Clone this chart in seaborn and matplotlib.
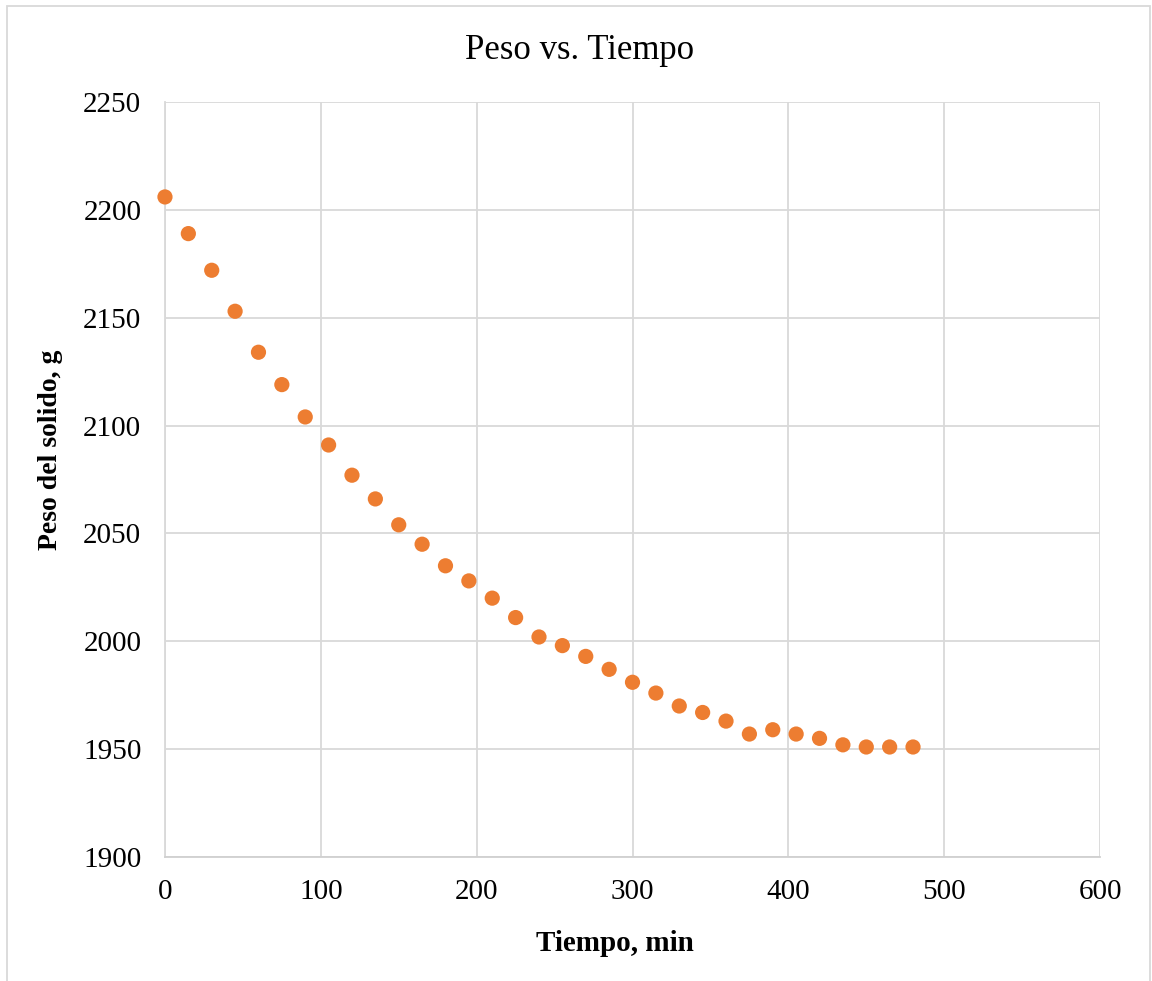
import matplotlib
matplotlib.use("Agg")
import matplotlib.pyplot as plt
import seaborn as sns
import pandas as pd
from matplotlib.patches import Rectangle

tiempo = [0, 15, 30, 45, 60, 75, 90, 105, 120, 135, 150, 165, 180, 195, 210, 225,
          240, 255, 270, 285, 300, 315, 330, 345, 360, 375, 390, 405, 420, 435,
          450, 465, 480]
peso = [2206, 2189, 2172, 2153, 2134, 2119, 2104, 2091, 2077, 2066, 2054, 2045,
        2035, 2028, 2020, 2011, 2002, 1998, 1993, 1987, 1981, 1976, 1970, 1967,
        1963, 1957, 1959, 1957, 1955, 1952, 1951, 1951, 1951]
x_ticks = [0, 100, 200, 300, 400, 500, 600]
y_ticks = [1900, 1950, 2000, 2050, 2100, 2150, 2200, 2250]

df = pd.DataFrame({"Tiempo": tiempo, "Peso": peso})

sns.set_style("white")
plt.rcParams["font.family"] = ["Liberation Serif", "DejaVu Serif"]
plt.rcParams["text.color"] = "black"
plt.rcParams["axes.labelcolor"] = "black"

fig = plt.figure(figsize=(11.52, 9.81), dpi=100)
ax = fig.add_axes([0.1432, 0.1264, 0.8117, 0.7696])

sns.scatterplot(data=df, x="Tiempo", y="Peso", ax=ax, color="#ED7D31",
                s=120, edgecolor="none", zorder=3, clip_on=False)

ax.set_xlim(0, 600)
ax.set_ylim(1900, 2250)
ax.set_xticks(x_ticks)
ax.set_yticks(y_ticks)
ax.grid(True, color="#d9d9d9", linewidth=1.3)
ax.set_axisbelow(True)
for sp in ax.spines.values():
    sp.set_visible(False)
ax.spines["bottom"].set_visible(True)
ax.spines["bottom"].set_color("#d0d0d0")
ax.spines["bottom"].set_linewidth(1.3)
ax.spines["left"].set_visible(True)
ax.spines["left"].set_color("#d9d9d9")
ax.spines["left"].set_linewidth(1.3)
ax.tick_params(axis="both", length=0, labelsize=21, colors="black")
ax.tick_params(axis="x", pad=16)
ax.tick_params(axis="y", pad=17)

ax.set_xlabel("Tiempo, min", fontsize=21, fontweight="bold", color="black")
ax.set_ylabel("Peso del solido, g", fontsize=20, fontweight="bold", color="black")
ax.xaxis.set_label_coords(0.481, -0.097)
ax.yaxis.set_label_coords(-0.109, 0.54)
fig.suptitle("Peso vs. Tiempo", fontsize=25, color="black", x=0.503, y=0.949,
             va="center")

fig.patches.append(Rectangle((0.006, -0.01), 0.992, 1.004, transform=fig.transFigure,
                             fill=False, edgecolor="#d9d9d9", linewidth=1.3))

fig.savefig("out.png", dpi=100)
